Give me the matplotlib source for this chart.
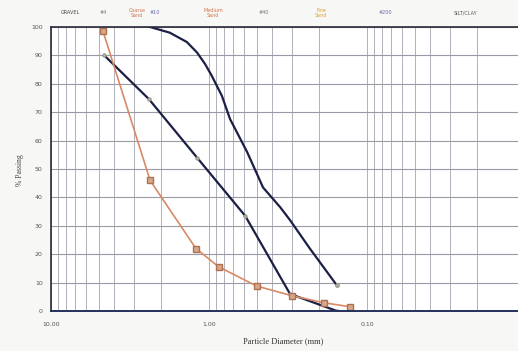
import matplotlib.pyplot as plt
import numpy as np

# ── data ──
# sample A (orange, with markers)
dia_a = [4.69, 2.36, 1.21, 0.865, 0.50, 0.30, 0.187, 0.128]
pass_a = [98.6, 46, 22, 15.5, 8.8, 5.4, 2.9, 1.5]

# sample B (dark, middle curve)
dia_b = [4.6, 2.4, 1.19, 0.59, 0.307, 0.155]
pass_b = [90, 74.6, 54, 33.5, 6, 0]

# sample C (dark, right curve)
dia_c = [2.36, 1.77, 1.38, 1.19, 1.06, 0.958, 0.828, 0.736, 0.574, 0.455,
         0.355, 0.307, 0.23, 0.155]
pass_c = [100, 98, 94.7, 91, 87, 82.7, 75.7, 67.6, 56, 43.5,
          36.6, 32, 22, 9]

xticks = [10, 1, 0.1]
xtick_labels = ["10.00", "1.00", "0.10"]
yticks = list(range(0, 101, 10))

# top band labels: (x pixel, text, colour)
top_labels = [
    (70, "GRAVEL", "#444444"),
    (103, "#4", "#777777"),
    (137, "Coarse\nSand", "#d0744a"),
    (155, "#10", "#6a6aa8"),
    (213, "Medium\nSand", "#d0744a"),
    (264, "#40", "#777777"),
    (321, "Fine\nSand", "#d9a437"),
    (385, "#200", "#6a6aa8"),
    (465, "SILT/CLAY", "#555555"),
]

W, H = 518, 351
fig = plt.figure(figsize=(W / 100, H / 100), dpi=100)
fig.patch.set_facecolor("#f7f7f5")

# axes run past the right edge (scan is cropped there)
ax = fig.add_axes([51 / W, (H - 311) / H, (525 - 51) / W, (311 - 27) / H])
ax.set_facecolor("white")
ax.set_xscale("log")
ax.set_xlim(10, 0.01)
ax.set_ylim(0, 100)

ax.grid(True, which="major", axis="y", color="#9a9aa6", linewidth=0.8)
ax.grid(True, which="both", axis="x", color="#b0b0ba", linewidth=0.7)

ax.plot(dia_c, pass_c, color="#1c1f45", linewidth=1.6)
ax.plot(dia_c[-1:], pass_c[-1:], linestyle="none", marker="o", markersize=2.5,
        markerfacecolor="#b8b8b0", markeredgecolor="#9a9a90")
ax.plot(dia_b, pass_b, color="#1c1f45", linewidth=1.6, marker="o",
        markersize=2.2, markerfacecolor="#b8b8b0", markeredgecolor="#9a9a90")
ax.plot(dia_a, pass_a, color="#d88a66", linewidth=1.2, marker="s",
        markersize=4, markerfacecolor="#d6a88a", markeredgecolor="#b07050")

ax.set_xticks(xticks)
ax.set_xticklabels(xtick_labels)
ax.set_yticks(yticks)
ax.set_yticklabels([str(v) for v in yticks])
ax.tick_params(axis="both", which="both", length=0, labelsize=4.5,
               colors="#555555", pad=6)
ax.tick_params(axis="x", pad=8)

for side in ["left", "top", "right"]:
    ax.spines[side].set_color("#2a2a3a")
    ax.spines[side].set_linewidth(1.2)
ax.spines["bottom"].set_color("#23305a")
ax.spines["bottom"].set_linewidth(1.4)

fig.text(20 / W, 1 - 170 / H, "% Passing", rotation=90, fontsize=5.5,
         color="#444444", ha="center", va="center", family="Liberation Serif")
fig.text(283 / W, 1 - 341 / H, "Particle Diameter (mm)", fontsize=6,
         color="#333333", ha="center", va="center", family="Liberation Serif")

for xp, txt, col in top_labels:
    fig.text(xp / W, 1 - 13 / H, txt, fontsize=3.5, color=col,
             ha="center", va="center", linespacing=1.1)

plt.savefig("out.png", dpi=100, facecolor=fig.get_facecolor())
